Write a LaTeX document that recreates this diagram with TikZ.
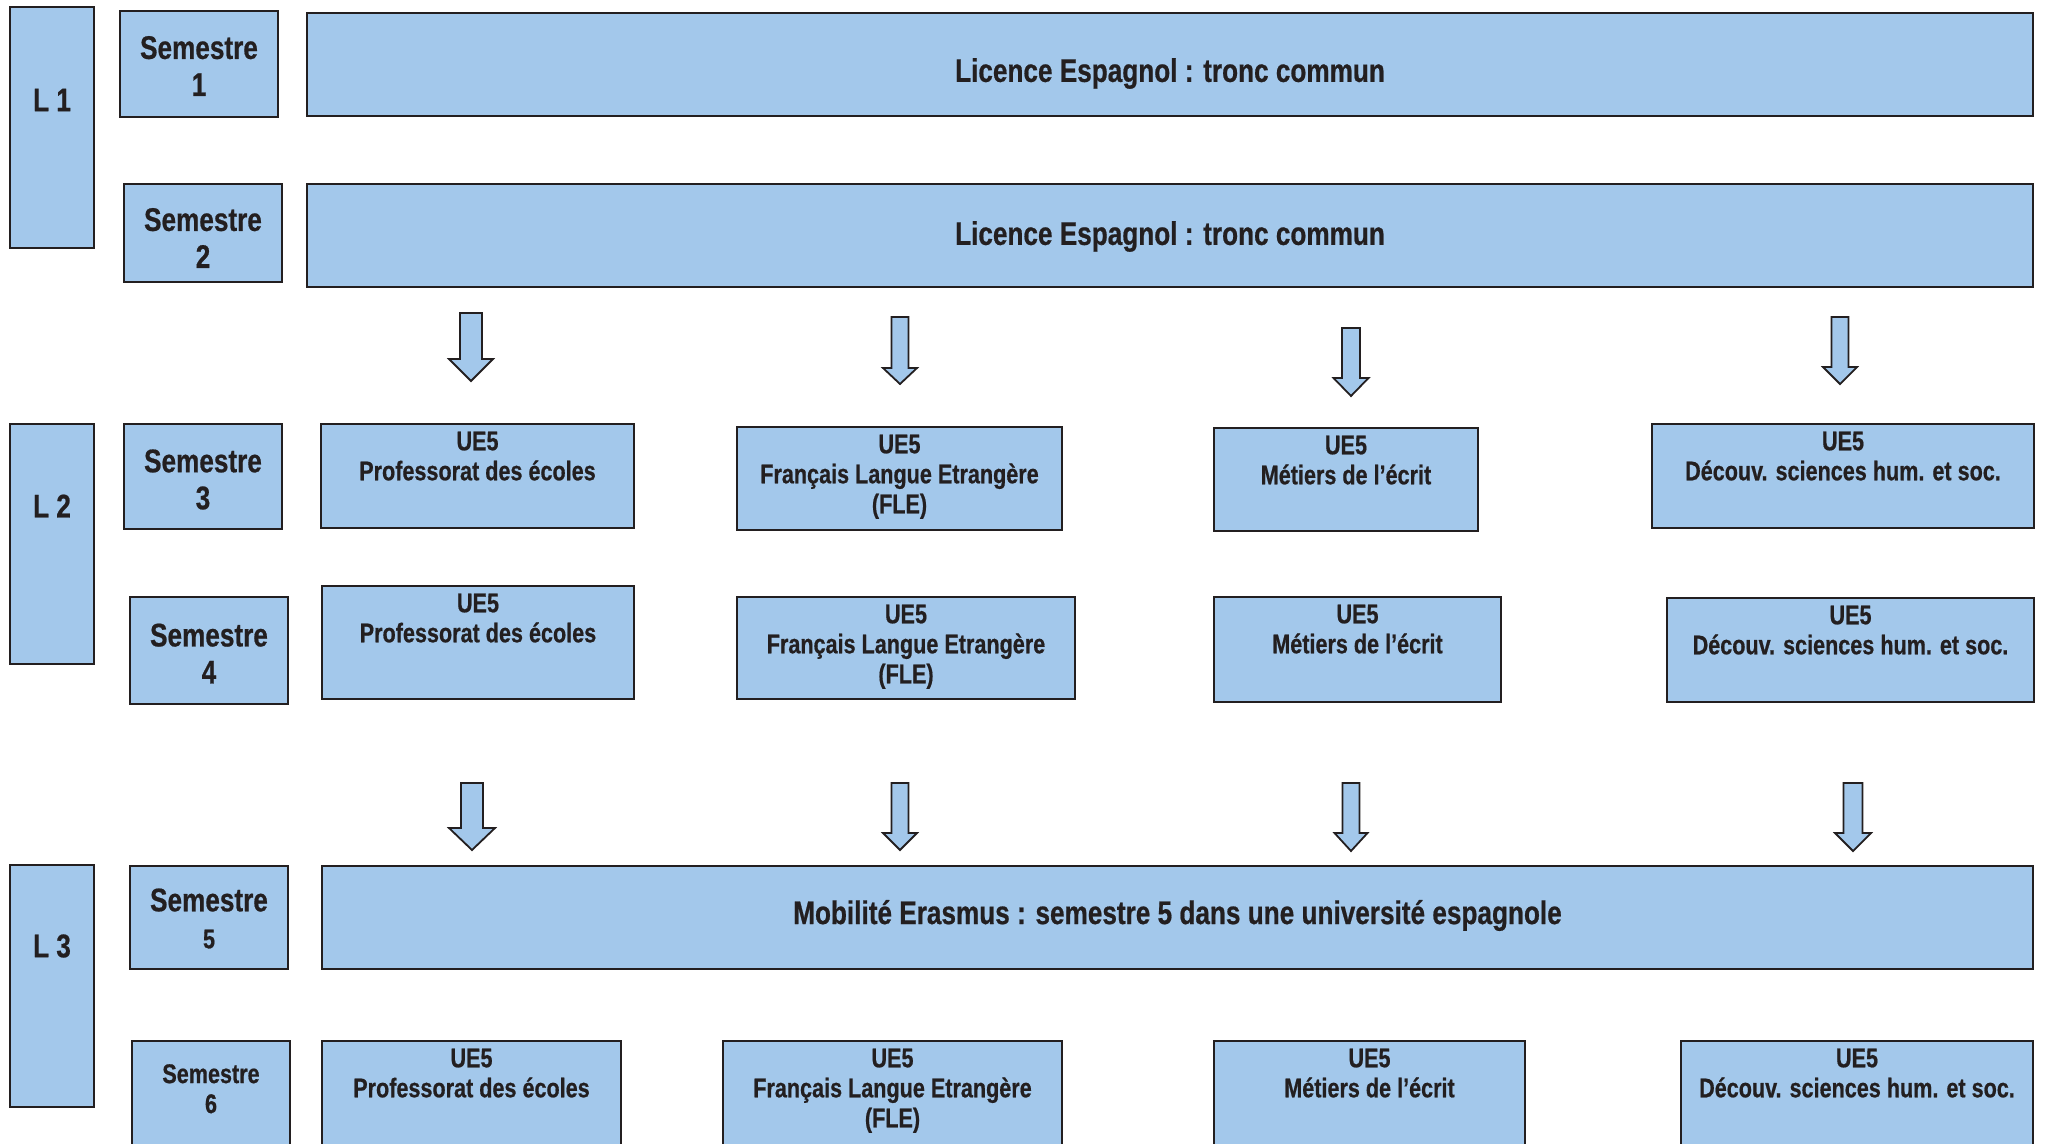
\documentclass[tikz,border=0pt]{standalone}
\usepackage{fontspec}
\setmainfont{Liberation Sans}[FakeStretch=0.8, FakeBold=0.6]
\usetikzlibrary{calc}
\definecolor{boxfill}{RGB}{163,200,235}
\definecolor{ink}{RGB}{35,31,32}
\newcommand\bx[5]{\node[boxst, minimum width={(#4)-(#2)}, minimum height={(#5)-(#3)}, anchor=north west] (#1) at (#2,#3) {};}
\newcommand\barrow[6]{\draw[blockarr] ({#1-#4},#2) -- ({#1+#4},#2) -- ({#1+#4},{#3-#6}) -- ({#1+#5},{#3-#6}) -- (#1,#3) -- ({#1-#5},{#3-#6}) -- ({#1-#4},{#3-#6}) -- cycle;}
\begin{document}
\begin{tikzpicture}[x=1pt,y=-1pt,
 boxst/.style={draw=ink, fill=boxfill, line width=1.8pt, inner sep=0pt, outer sep=0pt, rectangle},
 bigtext/.style={font=\fontsize{32.7}{37}\selectfont\bfseries, text=ink, align=center, inner sep=0pt},
 uetext/.style={font=\fontsize{27}{30}\selectfont\bfseries, text=ink, align=center, inner sep=0pt, anchor=north},
 blockarr/.style={draw=ink, fill=boxfill, line width=1.8pt, line join=miter}]
\useasboundingbox (0,0) rectangle (2045,1143);
\clip (0,0) rectangle (2045,1143);
% L1
\bx{L1}{10}{7}{94}{248}
\bx{S1}{120}{11}{278}{117}
\bx{LicA}{307}{13}{2033}{116}
\bx{S2}{124}{184}{282}{282}
\bx{LicB}{307}{184}{2033}{287}
% L2
\bx{L2}{10}{424}{94}{664}
\bx{S3}{124}{424}{282}{529}
\bx{S4}{130}{597}{288}{704}
\bx{P3}{321}{424}{634}{528}
\bx{F3}{737}{427}{1062}{530}
\bx{M3}{1214}{428}{1478}{531}
\bx{D3}{1652}{424}{2034}{528}
\bx{P4}{322}{586}{634}{699}
\bx{F4}{737}{597}{1075}{699}
\bx{M4}{1214}{597}{1501}{702}
\bx{D4}{1667}{598}{2034}{702}
% L3
\bx{L3}{10}{865}{94}{1107}
\bx{S5}{130}{866}{288}{969}
\bx{Mob}{322}{866}{2033}{969}
\bx{S6}{132}{1041}{290}{1170}
\bx{P6}{322}{1041}{621}{1170}
\bx{F6}{723}{1041}{1062}{1170}
\bx{M6}{1214}{1041}{1525}{1170}
\bx{D6}{1681}{1041}{2033}{1170}
% texts
\node[bigtext] (L1t) at (52,100) {L 1};
\node[bigtext] (L2t) at (52,506) {L 2};
\node[bigtext] (L3t) at (52,946) {L 3};
\node[bigtext] (S1t) at ([yshift=-2pt]S1.center) {Semestre\\1};
\node[bigtext] (S2t) at ([yshift=-5pt]S2.center) {Semestre\\2};
\node[bigtext] (S3t) at ([yshift=-3pt]S3.center) {Semestre\\3};
\node[bigtext] (S4t) at ([yshift=-3pt]S4.center) {Semestre\\4};
\node[bigtext] (S5t) at ([yshift=-1pt]S5.center) {Semestre\\{\fontsize{27}{30}\selectfont 5}};
\node[uetext] (S6t) at ([yshift=-23pt]S6.north) {Semestre\\6};
\node[bigtext] (LicAt) at ([yshift=-9pt]LicA.center) {Licence Espagnol : tronc commun};
\node[bigtext] (LicBt) at ([yshift=-1pt]LicB.center) {Licence Espagnol : tronc commun};
\node[bigtext] (Mobt) at ([yshift=2pt]Mob.center) {Mobilité Erasmus : semestre 5 dans une université espagnole};
\foreach \r in {3,4,6}{
 \node[uetext] (P\r t) at ([yshift=-7.5pt]P\r.north) {UE5\\Professorat des écoles};
 \node[uetext] (F\r t) at ([yshift=-7.5pt]F\r.north) {UE5\\Français Langue Etrangère\\(FLE)};
 \node[uetext] (M\r t) at ([yshift=-7.5pt]M\r.north) {UE5\\Métiers de l’écrit};
 \node[uetext] (D\r t) at ([yshift=-7.5pt]D\r.north) {UE5\\Découv. sciences hum. et soc.};
}
% arrows
\barrow{471}{313}{381}{11}{22}{22}
\barrow{900}{317}{384}{8.5}{17}{16}
\barrow{1351}{328}{396}{9}{17.5}{18}
\barrow{1840}{317}{384}{8.5}{17}{17}
\barrow{472}{783}{850}{11}{23}{22}
\barrow{900}{783}{850}{8.5}{17}{17}
\barrow{1351}{783}{851}{8.5}{16.5}{18}
\barrow{1853}{783}{851}{9.5}{18}{18}
\end{tikzpicture}
\end{document}
